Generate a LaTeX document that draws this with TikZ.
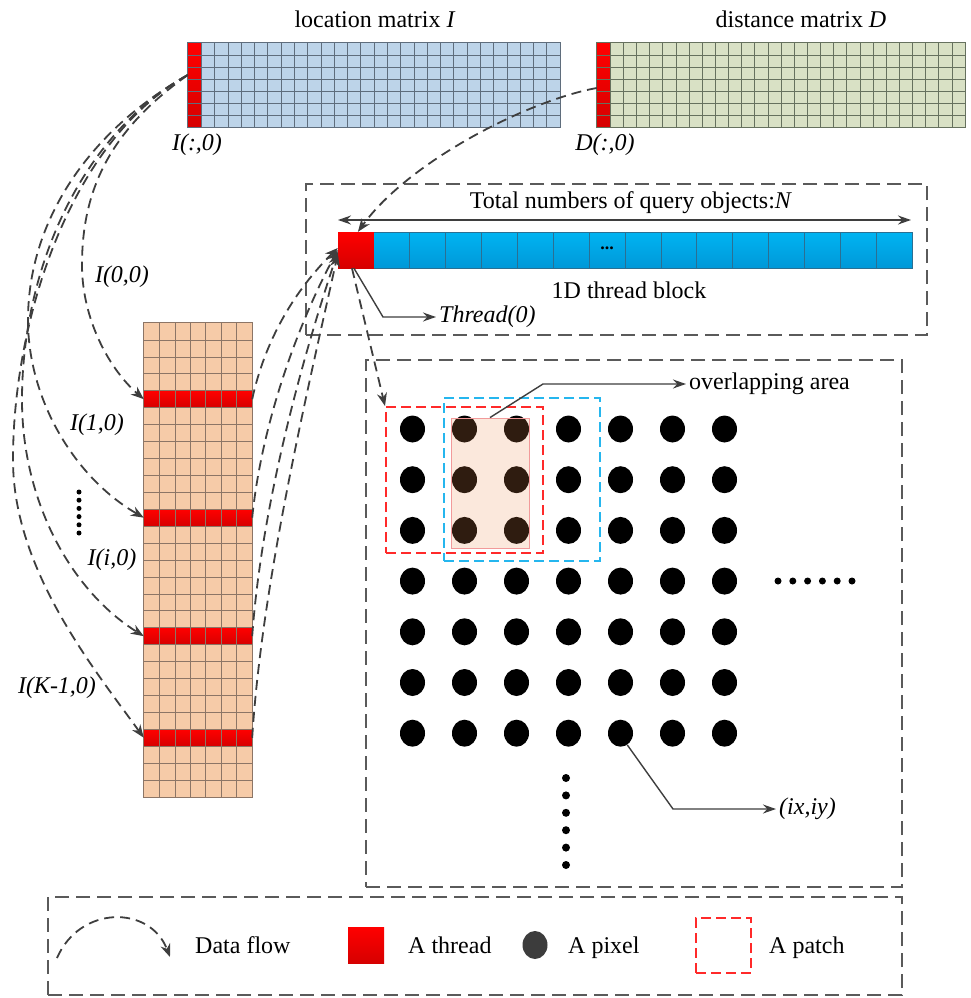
\documentclass[tikz,border=0pt]{standalone}
\usepackage{fontspec}
\setmainfont{Liberation Serif}
\usetikzlibrary{arrows.meta,shapes.geometric}
\definecolor{locblue}{HTML}{BDD4E9}
\definecolor{disgreen}{HTML}{D9E1C5}
\definecolor{gridIc}{HTML}{5F6D7C}
\definecolor{gridDc}{HTML}{66715E}
\definecolor{redtop}{HTML}{FF0000}
\definecolor{redbot}{HTML}{D60000}
\definecolor{cyantop}{HTML}{00B4F2}
\definecolor{cyanbot}{HTML}{0098D8}
\definecolor{cyanline}{HTML}{2B6F92}
\definecolor{peach}{HTML}{F6CBA8}
\definecolor{peachgrid}{HTML}{8C7566}
\definecolor{boxgray}{HTML}{5A5A5A}
\definecolor{flowgray}{HTML}{3E3E3E}
\definecolor{patchred}{HTML}{FF2A2A}
\definecolor{patchblue}{HTML}{25B6EE}
\definecolor{ovfill}{HTML}{EB8C50}
\definecolor{ovline}{HTML}{F29A9A}
\definecolor{pixgray}{HTML}{3C3C3C}
\newcommand\bigf{\fontsize{24}{28}\selectfont}
\tikzset{
  txt/.style={font=\bigf, inner sep=0pt},
  boxdash/.style={draw=boxgray, line width=1.8pt, dash pattern=on 14pt off 7pt, inner sep=0pt},
  flow/.style={draw=flowgray, line width=1.8pt, dash pattern=on 10pt off 6pt, -{Stealth[length=13pt,width=10pt]}},
  lead/.style={draw=flowgray, line width=1.4pt, -{Stealth[length=13pt,width=9pt]}},
  redcell/.style={top color=redtop, bottom color=redbot, inner sep=0pt},
  gridI/.style={draw=gridIc, line width=0.7pt},
  gridD/.style={draw=gridDc, line width=0.7pt},
  gridP/.style={draw=peachgrid, line width=0.7pt},
  pix/.style={ellipse, fill=black, minimum width=25pt, minimum height=27pt, inner sep=0pt},
  sdot/.style={circle, fill=black, minimum size=7pt, inner sep=0pt},
  tdot/.style={circle, fill=black, minimum size=5pt, inner sep=0pt},
}
\begin{document}
\begin{tikzpicture}[x=1pt,y=-1pt]
\useasboundingbox (0,0) rectangle (970,998);

% ---------- titles
\node[txt, anchor=base] (tI) at (375,28) {location matrix \textit{I}};
\node[txt, anchor=base] (tD) at (801,28) {distance matrix \textit{D}};

% ---------- location matrix I
\node[inner sep=0pt, minimum width=372pt, minimum height=84pt, fill=locblue] (matI) at (374,85) {};
\node[redcell, minimum width=13.29pt, minimum height=84pt] (colI) at (194.64,85) {};
\foreach \i in {1,...,27} \draw[gridI] ({188+\i*13.2857},43) -- ({188+\i*13.2857},127);
\foreach \j in {1,...,6} \draw[gridI] (188,{43+\j*12}) -- (560,{43+\j*12});
\draw[gridI] (matI.north west) rectangle (matI.south east);
\node[txt, anchor=base] (lI) at (197,150) {\itshape I(:,0)};

% ---------- distance matrix D
\node[inner sep=0pt, minimum width=368pt, minimum height=84pt, fill=disgreen] (matD) at (781,85) {};
\node[redcell, minimum width=13.14pt, minimum height=84pt] (colD) at (603.57,85) {};
\foreach \i in {1,...,27} \draw[gridD] ({597+\i*13.1429},43) -- ({597+\i*13.1429},127);
\foreach \j in {1,...,6} \draw[gridD] (597,{43+\j*12}) -- (965,{43+\j*12});
\draw[gridD] (matD.north west) rectangle (matD.south east);
\node[txt, anchor=base] (lD) at (605,150) {\itshape D(:,0)};

% ---------- thread block box
\node[boxdash, minimum width=621pt, minimum height=151pt] (tbox) at (616.5,259.5) {};
\coordinate (nL) at (338,220);
\coordinate (nR) at (911,220);
\draw[draw=flowgray, line width=1.4pt, {Stealth[length=13pt,width=9pt]}-{Stealth[length=13pt,width=9pt]}] (nL) -- (nR);
\node[txt, anchor=base] (ttot) at (631,208) {Total numbers of query objects:\textit{N}};
\node[inner sep=0pt, minimum width=574pt, minimum height=36pt, top color=cyantop, bottom color=cyanbot, draw=cyanline, line width=0.6pt] (tblock) at (625,250) {};
\foreach \i in {2,...,15} \draw[cyanline, line width=0.6pt] ({338+\i*35.875},232) -- ({338+\i*35.875},268);
\node[redcell, minimum width=35.875pt, minimum height=36pt] (thr0) at (355.94,250) {};
\node[font=\fontsize{18}{20}\selectfont\bfseries, inner sep=0pt] (tdots) at (607,248) {...};
\node[txt, anchor=base] (tlab) at (629,298) {1D thread block};
\node[txt, anchor=west, inner sep=3pt] (thrtxt) at (436,317) {\itshape Thread(0)};
\draw[lead] ([xshift=-2pt]thr0.south) -- (383,317) -- (thrtxt.west);

% ---------- column of I (orange)
\node[inner sep=0pt, minimum width=108pt, minimum height=474pt, fill=peach] (colK) at (198,560) {};
\node[redcell, minimum width=108pt, minimum height=16.93pt] (r1) at (198,399.18) {};
\node[redcell, minimum width=108pt, minimum height=16.93pt] (r2) at (198,517.68) {};
\node[redcell, minimum width=108pt, minimum height=16.93pt] (r3) at (198,636.18) {};
\node[redcell, minimum width=108pt, minimum height=16.93pt] (r4) at (198,737.75) {};
\foreach \i in {1,...,6} \draw[gridP] ({144+\i*15.4286},323) -- ({144+\i*15.4286},797);
\foreach \j in {1,...,27} \draw[gridP] (144,{323+\j*16.9286}) -- (252,{323+\j*16.9286});
\draw[gridP] (colK.north west) rectangle (colK.south east);

% labels on the left
\node[txt] (l00) at (122,277) {\itshape I(0,0)};
\node[txt] (l10) at (97,425) {\itshape I(1,0)};
\node[txt] (li0) at (112,560) {\itshape I(i,0)};
\node[txt] (lk0) at (57,688) {\itshape I(K-1,0)};
\foreach \k in {0,...,5} \node[tdot] (vd\k) at (79,{492+8.2*\k}) {};

% ---------- data flow curves (left)
\draw[flow] ([yshift=10pt]colI.west) .. controls (110,130) and (82,190) .. (82,265)
            .. controls (82,320) and (110,370) .. (r1.west);
\draw[flow] ([yshift=10pt]colI.west) .. controls (90,130) and (28,220) .. (28,320)
            .. controls (28,400) and (75,478) .. (r2.west);
\draw[flow] ([yshift=10pt]colI.west) .. controls (80,135) and (22,270) .. (22,400)
            .. controls (22,500) and (70,590) .. (r3.west);
\draw[flow] ([yshift=10pt]colI.west) .. controls (70,140) and (13,320) .. (13,460)
            .. controls (13,570) and (95,670) .. (r4.west);

% ---------- data flow curves (right, to thread)
\draw[flow] (r1.east) .. controls (265,340) and (295,290) .. ([yshift=2pt]thr0.west);
\draw[flow] (r2.east) .. controls (262,420) and (300,320) .. ([yshift=0pt]thr0.west);
\draw[flow] (r3.east) .. controls (262,500) and (305,350) .. ([yshift=-2pt]thr0.west);
\draw[flow] (r4.east) .. controls (262,580) and (310,380) .. ([yshift=-4pt]thr0.west);

% ---------- D column to thread
\draw[flow] ([yshift=-3pt]colD.west) .. controls (530,100) and (410,160) .. ([xshift=2pt]thr0.north);

% ---------- pixel box
\node[boxdash, minimum width=536pt, minimum height=527pt] (pbox) at (634,623.5) {};
\foreach \i in {0,...,6} \foreach \j in {0,...,6}
  \node[pix] (p\i\j) at ({412.5+52*\i},{429+50.7*\j}) {};
\node[inner sep=0pt, minimum width=78pt, minimum height=130pt, fill=ovfill, fill opacity=0.2, draw=ovline, draw opacity=1, line width=0.9pt] (ovr) at (490,483) {};
\node[inner sep=0pt, minimum width=156pt, minimum height=163pt, draw=patchblue, line width=2pt, dash pattern=on 10pt off 5pt] (bpatch) at (522,479.5) {};
\node[inner sep=0pt, minimum width=157pt, minimum height=146pt, draw=patchred, line width=2pt, dash pattern=on 10pt off 5pt] (rpatch) at (464.5,480) {};
\draw[flow] ([xshift=-4pt]thr0.south) -- (rpatch.north west);
\node[txt, anchor=west, inner sep=3pt] (ovtxt) at (686,384) {overlapping area};
\draw[lead] (ovr.north) -- (543,384) -- (ovtxt.west);
\foreach \k in {0,...,5} \node[sdot] (hd\k) at ({778+14.8*\k},581) {};
\foreach \k in {0,...,5} \node[sdot, minimum size=8pt] (vv\k) at (566,{778+17.4*\k}) {};
\node[txt, anchor=west, inner sep=3pt] (ixtxt) at (776,809) {\itshape (ix,iy)};
\draw[lead] (p46.-60) -- (673,809) -- (ixtxt.west);

% ---------- legend
\node[boxdash, minimum width=854pt, minimum height=98pt] (legend) at (475,946) {};
\coordinate (lgA) at (57,958);
\coordinate (lgB) at (170,957);
\draw[flow] (lgA) .. controls (80,905) and (150,905) .. (lgB);
\node[txt, anchor=base west] (lgflow) at (195,953) {Data flow};
\node[redcell, minimum width=36pt, minimum height=36pt] (lgthr) at (366,945) {};
\node[txt, anchor=base west] (lgthrt) at (408,953) {A thread};
\node[ellipse, fill=pixgray, minimum width=25pt, minimum height=28pt, inner sep=0pt] (lgpix) at (535,945) {};
\node[txt, anchor=base west] (lgpixt) at (568,953) {A pixel};
\node[inner sep=0pt, minimum width=55pt, minimum height=55pt, draw=patchred, line width=2pt, dash pattern=on 10pt off 5pt] (lgpatch) at (723.5,945.5) {};
\node[txt, anchor=base west] (lgpatcht) at (769,953) {A patch};
\end{tikzpicture}
\end{document}
